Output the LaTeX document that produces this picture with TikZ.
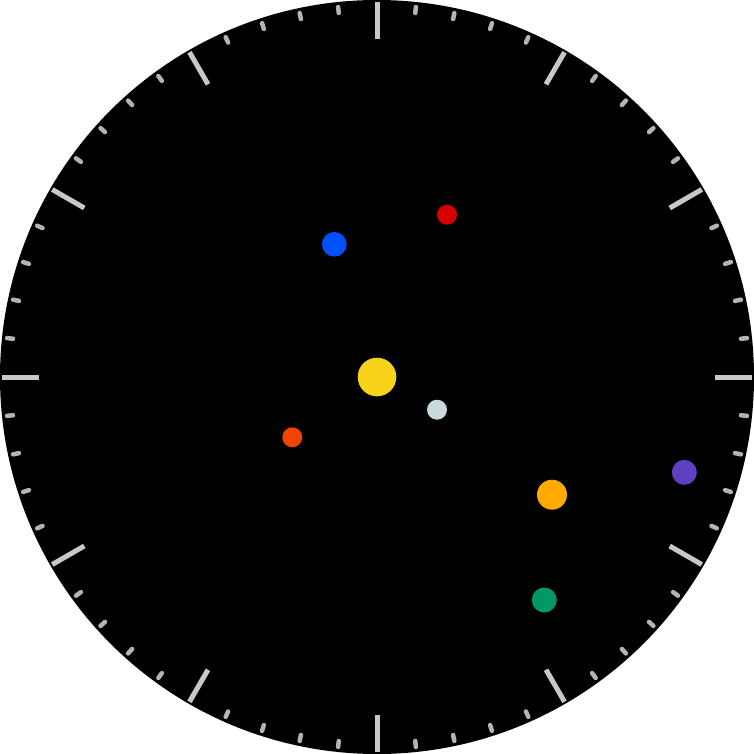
\documentclass[tikz,border=0pt]{standalone}
\definecolor{tickc}{HTML}{C8C8C8}
\definecolor{minc}{HTML}{B4B4B4}
\definecolor{sunc}{HTML}{F7D31A}
\definecolor{mercc}{HTML}{C9D8DC}
\definecolor{bluec}{HTML}{0050FF}
\definecolor{redc}{HTML}{D60000}
\definecolor{ororc}{HTML}{F24400}
\definecolor{orangec}{HTML}{FFAA00}
\definecolor{purpc}{HTML}{5E40C0}
\definecolor{greenc}{HTML}{009966}
\tikzset{
  majortick/.style={draw=tickc, line width=5pt},
  minortick/.style={draw=minc, line width=4.5pt, line cap=round},
  planet/.style={circle, inner sep=0pt, draw=none}
}
\begin{document}
\begin{tikzpicture}[x=1pt,y=-1pt]
\useasboundingbox (0,0) rectangle (754,754);
\fill[white] (0,0) rectangle (754,754);
\fill[black] (377,377) circle (377);
\foreach \i in {0,...,59}{
  \pgfmathtruncatemacro{\m}{mod(\i,5)}
  \ifnum\m=0
    \draw[majortick] ({377+338*sin(6*\i)},{377-338*cos(6*\i)}) -- ({377+375*sin(6*\i)},{377-375*cos(6*\i)});
  \else
    \draw[minortick] ({377+366*sin(6*\i)},{377-366*cos(6*\i)}) -- ({377+372*sin(6*\i)},{377-372*cos(6*\i)});
  \fi
}
\node[planet, fill=sunc, minimum size=38.6pt] (sun) at (377,377) {};
\node[planet, fill=mercc, minimum size=20pt] (mercury) at (437,409.7) {};
\node[planet, fill=bluec, minimum size=24.7pt] (blue) at (334.3,244.3) {};
\node[planet, fill=redc, minimum size=20pt] (red) at (447,214.7) {};
\node[planet, fill=ororc, minimum size=20pt] (orred) at (292.3,437.3) {};
\node[planet, fill=orangec, minimum size=30pt] (orange) at (552,494.7) {};
\node[planet, fill=purpc, minimum size=25pt] (purple) at (684.3,472.3) {};
\node[planet, fill=greenc, minimum size=25pt] (green) at (544.3,600) {};
\end{tikzpicture}
\end{document}
